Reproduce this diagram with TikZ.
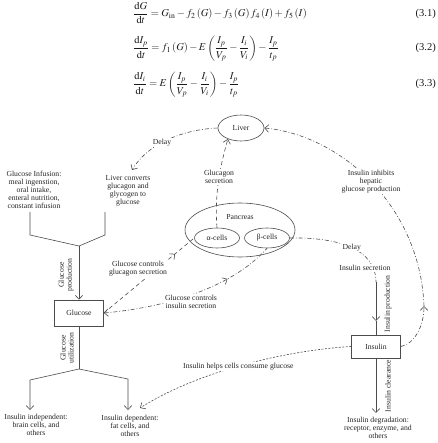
\documentclass[tikz,border=0pt]{standalone}
\usepackage{mathptmx}
\usepackage{fontspec}
\setmainfont{Liberation Serif}
\usetikzlibrary{arrows.meta,shapes.geometric,decorations.markings}
\tikzset{
  lbl/.style={font=\fontsize{7.7}{8}\selectfont, text=black!85, align=center, inner sep=1pt},
  onpath/.style={lbl, fill=white},
  cell/.style={lbl, ellipse, draw=black!70, line width=0.6pt, inner sep=0pt},
  box/.style={lbl, rectangle, draw=black!70, line width=0.6pt, inner sep=0pt},
  conn/.style={draw=black!70, line width=0.6pt},
  dashdot/.style={conn, dash pattern=on 4pt off 2pt on 0.8pt off 2pt},
  dashlong/.style={conn, dash pattern=on 4pt off 3pt},
  dashshort/.style={conn, dash pattern=on 2pt off 1.5pt},
  midarrow/.style={postaction={decorate,decoration={markings,mark=at position #1 with {\arrow[solid]{>}}}}},
  eqn/.style={anchor=base west, font=\fontsize{10.5}{12}\selectfont, inner sep=0pt, text=black!90},
  eqnum/.style={eqn, anchor=base east},
}
\begin{document}
\begin{tikzpicture}[x=1pt,y=-1pt,>={Straight Barb[length=4pt,width=7.5pt]}]
\useasboundingbox (0,0) rectangle (437,443);
% equations
\node[eqn] (eq1) at (133,16.5) {$\displaystyle\frac{\mathrm{d}G}{\mathrm{d}t}=G_{\mathrm{in}}-f_2\left(G\right)-f_3\left(G\right)f_4\left(I\right)+f_5\left(I\right)$};
\node[eqn] (eq2) at (133,51) {$\displaystyle\frac{\mathrm{d}I_p}{\mathrm{d}t}= f_1\left(G\right)-E\left(\frac{I_p}{V_p}-\frac{I_i}{V_i}\right)-\frac{I_p}{t_p}$};
\node[eqn] (eq3) at (133,87) {$\displaystyle\frac{\mathrm{d}I_i}{\mathrm{d}t}= E\left(\frac{I_p}{V_p}-\frac{I_i}{V_i}\right)-\frac{I_p}{t_p}$};
\node[eqnum] (n1) at (436,16.5) {(3.1)};
\node[eqnum] (n2) at (436,51) {(3.2)};
\node[eqnum] (n3) at (436,87) {(3.3)};
% shapes
\node[cell, minimum width=46pt, minimum height=26pt] (liver) at (241,128) {Liver};
\node[cell, minimum width=110pt, minimum height=54pt] (pancreas) at (240,230) {};
\node[lbl] (pancreaslbl) at (240,217) {Pancreas};
\node[cell, minimum width=45pt, minimum height=20pt] (alpha) at (217,238) {α-cells};
\node[cell, minimum width=45pt, minimum height=20pt] (beta) at (267,238) {β-cells};
\node[box, minimum width=49pt, minimum height=26pt] (glucose) at (79,313) {Glucose};
\node[box, minimum width=49pt, minimum height=23pt] (insulin) at (376,346.5) {Insulin};
% texts
\node[lbl] (infusion) at (34,190) {Glucose Infusion:\\meal ingenstion,\\oral intake,\\enteral nutrition,\\constant infusion};
\node[lbl] (liverconv) at (128,191) {Liver converts\\glucagon and\\glycogen to\\glucose};
\node[lbl, rotate=90] (gluprod) at (66,275) {Glucose\\production};
\node[lbl, rotate=90] (gluutil) at (67,348) {Glucose\\utilization};
\node[lbl] (indep) at (36,425) {Insulin independent:\\brain cells, and\\others};
\node[lbl] (dep) at (130,426) {Insulin dependent:\\fat cells, and\\others};
\node[lbl] (degr) at (378,428) {Insulin degradation:\\receptor, enzyme, and\\others};
\node[lbl, rotate=90] (insprod) at (388,304) {Insulin production};
\node[lbl, rotate=90] (insclear) at (388,386) {Insulin clearance};
% coordinates
\coordinate (inL) at (30,212); \coordinate (inL2) at (30,235);
\coordinate (inR) at (105,212); \coordinate (inR2) at (105,235);
\coordinate (jin) at (79,246);
\coordinate (jout) at (79,369);
\coordinate (outL1) at (30,380); \coordinate (outL2) at (30,410);
\coordinate (outR1) at (128,379); \coordinate (outR2) at (128,410);
\coordinate (degrtop) at (376,413);
\coordinate (secend) at (376,282);
\coordinate (prodtip) at (376,321);
\coordinate (inhmid) at (424,306);
\coordinate (convtip) at (132,170);
\coordinate (helpend) at (140,408);
% solid flows
\draw[conn] (inL) -- (inL2) -- (jin) -- (inR2) -- (inR);
\draw[conn,->] (jin) -- (glucose.north);
\draw[conn] (glucose.south) -- (jout);
\draw[conn,->] (jout) -- (outL1) -- (outL2);
\draw[conn,->] (jout) -- (outR1) -- (outR2);
\draw[conn,->] (insulin.south) -- (degrtop);
\draw[conn,->] (secend) -- (prodtip);
\draw[conn] (prodtip) -- (insulin.north);
% control links
\draw[dashlong, midarrow=0.79] (glucose.east) -- (alpha.west);
\draw[dashdot, <-, midarrow=0.72] (glucose.east) .. controls (160,308) and (230,290) .. (beta.south);
\draw[dashdot] (beta.east) .. controls (340,237) and (376,250) .. (secend) node[onpath,pos=0.5] (delayB) {Delay};
\draw[dashlong,->] (alpha.north) .. controls (214,190) and (222,160) .. (liver.220) node[onpath,pos=0.5] (glucsec) {Glucagon\\secretion};
\draw[dashdot,->] (liver.west) .. controls (190,129) and (150,140) .. (convtip) node[onpath,pos=0.6] (delayA) {Delay};
\draw[dashdot,->] (insulin.east) .. controls (415,344) and (424,325) .. (inhmid);
\draw[dashdot,->] (inhmid) .. controls (420,205) and (340,135) .. (liver.east) node[onpath,pos=0.5] (inhibit) {Insulin inhibits\\hepatic\\glucose production};
\draw[dashshort,->] (insulin.west) .. controls (290,350) and (200,370) .. (helpend) node[onpath,pos=0.53] (helps) {Insulin helps cells consume glucose};
% labels over lines
\node[onpath] (ctrlglucagon) at (138,269) {Glucose controls\\glucagon secretion};
\node[onpath] (ctrlinsulin) at (191,302) {Glucose controls\\insulin secretion};
\node[onpath] (inssec) at (365,268) {Insulin secretion};
\end{tikzpicture}
\end{document}
